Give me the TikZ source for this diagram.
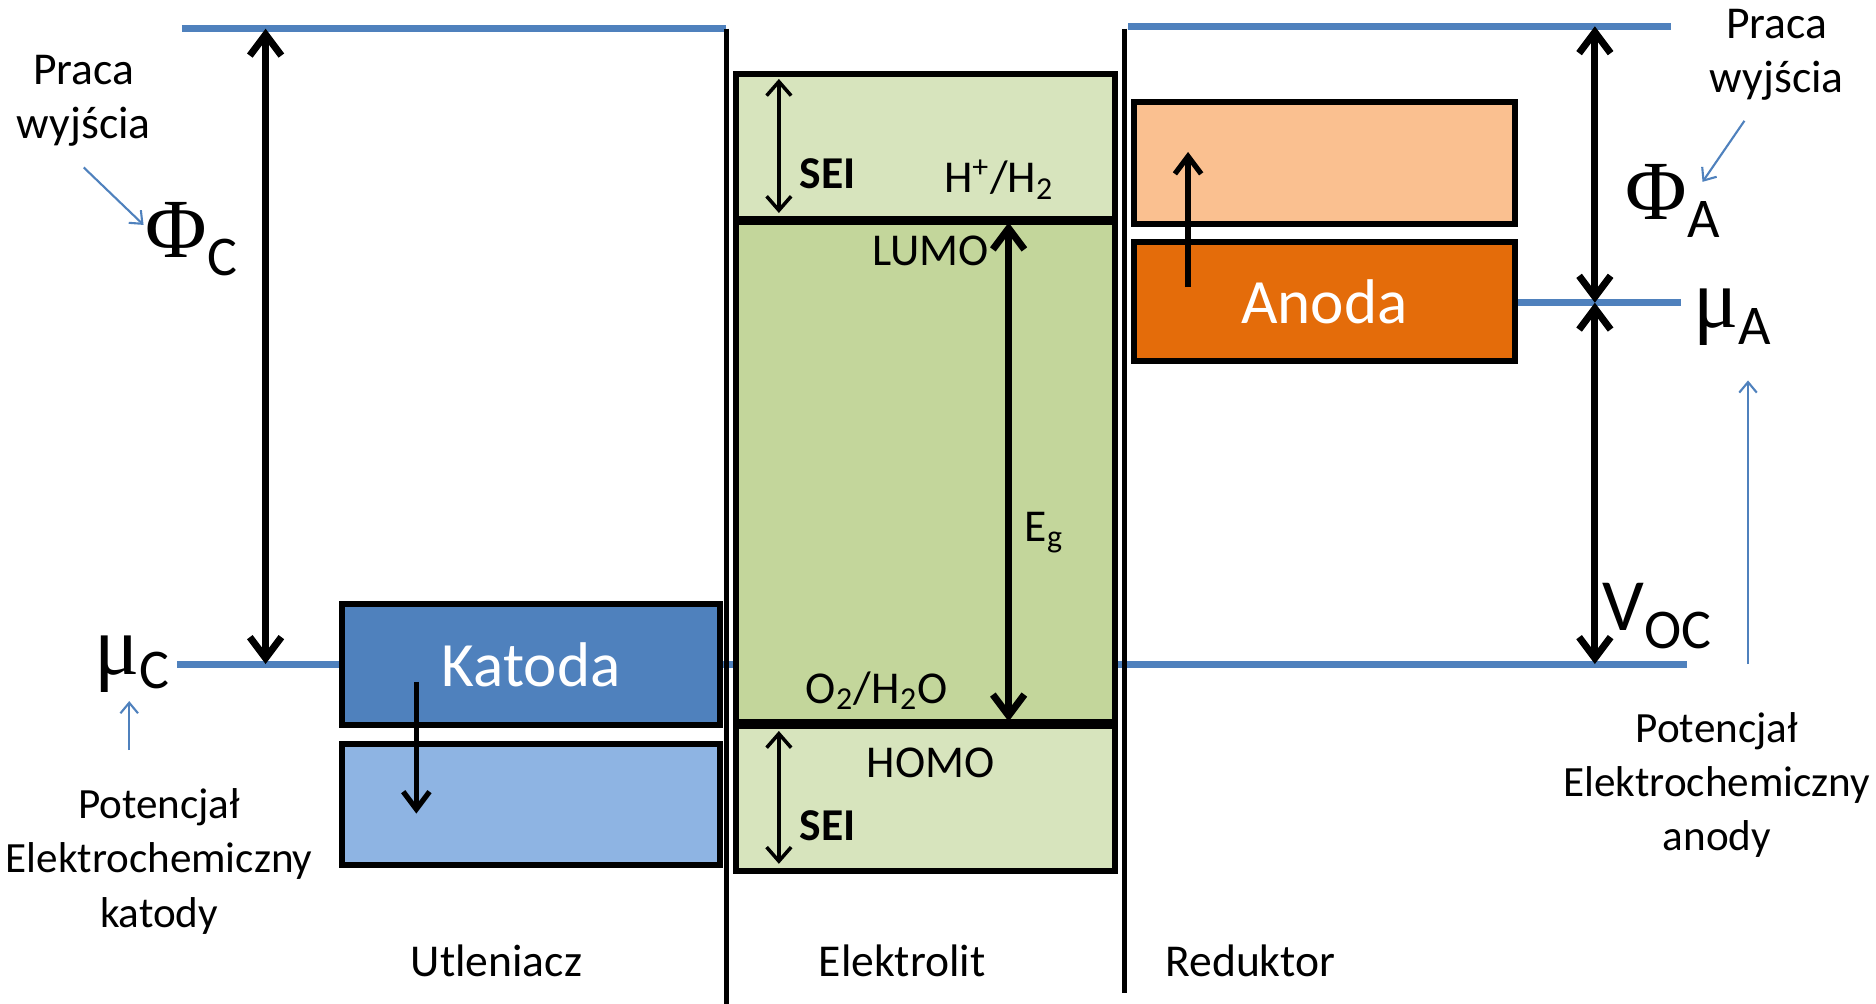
\documentclass[tikz,border=0pt]{standalone}
\usepackage{fontspec}
\setmainfont{Carlito}
\newfontfamily\greekfont{Liberation Serif}
\usepackage{xcolor}
\usepackage{tikz}
\usetikzlibrary{arrows.meta, positioning}

\definecolor{levelblue}{HTML}{4F81BD}
\definecolor{katblue}{HTML}{4F81BD}
\definecolor{katlight}{HTML}{8EB4E3}
\definecolor{seigreen}{HTML}{D7E4BD}
\definecolor{gapgreen}{HTML}{C3D69B}
\definecolor{anorange}{HTML}{E46C0A}
\definecolor{anlight}{HTML}{FAC090}

\begin{document}
\begin{tikzpicture}[x=0.012cm, y=-0.012cm,
  band/.style={rectangle, draw, line width=1.7pt, inner sep=0pt},
  level/.style={draw=levelblue, line width=2pt},
  wall/.style={line width=1.5pt},
  dbl/.style={{Straight Barb[length=6pt,width=9pt]}-{Straight Barb[length=6pt,width=9pt]}, line width=2pt},
  seiarr/.style={{Straight Barb[length=4pt,width=7pt]}-{Straight Barb[length=4pt,width=7pt]}, line width=1pt},
  hop/.style={-{Straight Barb[length=5pt,width=7.5pt]}, line width=1.5pt},
  hint/.style={-{Straight Barb[length=3pt,width=5pt]}, draw=levelblue, line width=0.6pt},
  lbl/.style={font=\fontsize{13}{15.5}\selectfont, align=center, inner sep=0pt},
  side/.style={font=\fontsize{12.3}{15.5}\selectfont, align=center, inner sep=0pt},
  sym/.style={font=\fontsize{24}{24}\selectfont, inner sep=0pt},
  electrode/.style={font=\fontsize{18}{18}\selectfont, text=white}
]
  \useasboundingbox (0,0) rectangle (1568,839);

  % energy levels
  \draw[level] (152,24) -- (607,24);
  \draw[level] (943,22) -- (1397,22);
  \draw[level] (148,555) -- (1410,555);
  \draw[wall] (607,24) -- (607,839);
  \draw[wall] (940,24) -- (940,830);

  % cathode side
  \node[band, fill=katblue, minimum width=3.792cm, minimum height=1.212cm, electrode] (kat) at (444,555.5) {Katoda};
  \node[band, fill=katlight, minimum width=3.792cm, minimum height=1.212cm] (katlow) at (444,672.5) {};

  % electrolyte
  \node[band, fill=seigreen, minimum width=3.804cm, minimum height=1.452cm] (seitop) at (773.5,122.5) {};
  \node[band, fill=gapgreen, minimum width=3.804cm, minimum height=5.004cm] (window) at (773.5,394.5) {};
  \node[band, fill=seigreen, minimum width=3.804cm, minimum height=1.452cm] (seibot) at (773.5,667.5) {};

  % anode side
  \node[band, fill=anlight, minimum width=3.816cm, minimum height=1.224cm] (anhigh) at (1107,136) {};
  \node[band, fill=anorange, minimum width=3.816cm, minimum height=1.2cm, electrode] (an) at (1107,252) {Anoda};
  \draw[level] (an.east |- 0,253) -- (1405,253);

  % arrows
  \coordinate (phiCtop) at (222,24);
  \coordinate (phiCbot) at (222,555);
  \draw[dbl] (phiCtop) -- (phiCbot);
  \coordinate (katfrom) at (348,570);
  \coordinate (katto) at (348,680);
  \draw[hop] (katfrom) -- (katto);
  \coordinate (anfrom) at (993,240);
  \coordinate (anto) at (993,127);
  \draw[hop] (anfrom) -- (anto);
  \coordinate (seiA) at (651,66);
  \coordinate (seiB) at (651,178);
  \draw[seiarr] (seiA) -- (seiB);
  \coordinate (seiC) at (651,611);
  \coordinate (seiD) at (651,722);
  \draw[seiarr] (seiC) -- (seiD);
  \coordinate (lumo) at (843,186);
  \coordinate (homo) at (843,603);
  \draw[dbl] (lumo) -- (homo);
  \coordinate (phiAtop) at (1333,22);
  \coordinate (muAlvl) at (1333,253);
  \coordinate (muClvl) at (1333,555);
  \draw[dbl] (phiAtop) -- (muAlvl);
  \draw[dbl] (muAlvl) -- (muClvl);

  % labels
  \node[lbl] (pracaC) at (70,84) {Praca\\wyjścia};
  \node[sym] (phiC) at (160,200) {{\greekfont Φ}\raisebox{-5pt}{\fontsize{16}{16}\selectfont C}};
  \node[sym] (muC) at (110,555) {{\greekfont μ}\raisebox{-4pt}{\fontsize{16}{16}\selectfont C}};
  \node[side] (potC) at (133,720) {Potencjał\\Elektrochemiczny\\katody};
  \node[lbl] (utl) at (415,803) {Utleniacz};
  \node[lbl] (elek) at (754,803) {Elektrolit};
  \node[lbl] (red) at (1045,803) {Reduktor};
  \node[lbl] (pracaA) at (1485,46) {Praca\\wyjścia};
  \node[sym] (phiA) at (1398,168) {{\greekfont Φ}\raisebox{-5pt}{\fontsize{16}{16}\selectfont A}};
  \node[sym] (muA) at (1448,265) {{\greekfont μ}\raisebox{-5pt}{\fontsize{16}{16}\selectfont A}};
  \node[sym, font=\fontsize{21}{21}\selectfont] (voc) at (1385,515) {V\raisebox{-5pt}{\fontsize{16}{16}\selectfont OC}};
  \node[side] (potA) at (1435,656) {Potencjał\\Elektrochemiczny\\anody};
  \node[lbl, font=\fontsize{13}{15.5}\selectfont\bfseries] (seiT) at (692,145) {SEI};
  \node[lbl, font=\fontsize{13}{15.5}\selectfont\bfseries] (seiB) at (692,690) {SEI};
  \node[lbl] (hh) at (835,150) {H\textsuperscript{+}/H\textsubscript{2}};
  \node[lbl] (lumoT) at (778,210) {LUMO};
  \node[lbl] (eg) at (873,445) {E\textsubscript{g}};
  \node[lbl] (oh) at (733,577) {O\textsubscript{2}/H\textsubscript{2}O};
  \node[lbl] (homoT) at (778,638) {HOMO};

  % pointers
  \coordinate (hintC1) at (70,140);
  \coordinate (hintC2) at (120,188);
  \draw[hint] (hintC1) -- (hintC2);
  \coordinate (hintA1) at (1458,101);
  \coordinate (hintA2) at (1423,152);
  \draw[hint] (hintA1) -- (hintA2);
  \coordinate (hintM1) at (108,627);
  \coordinate (hintM2) at (108,586);
  \draw[hint] (hintM1) -- (hintM2);
  \coordinate (hintN1) at (1461,555);
  \coordinate (hintN2) at (1461,318);
  \draw[hint] (hintN1) -- (hintN2);
\end{tikzpicture}
\end{document}
